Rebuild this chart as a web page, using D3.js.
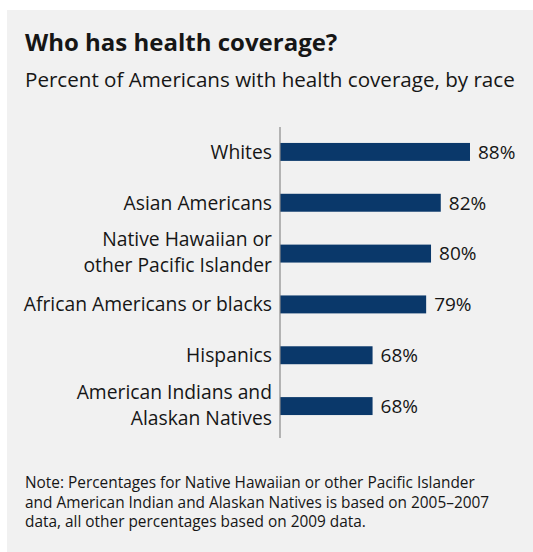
<!DOCTYPE html>
<html>
<head>
<meta charset="utf-8">
<script src="https://cdn.jsdelivr.net/npm/d3@7"></script>
<style>
  body { margin: 0; background: #fff; }
  text { font-family: "Open Sans", "Noto Sans", sans-serif; fill: #161616; }
</style>
</head>
<body>
<div id="chart"></div>
<script>
// chart data
const categories = [
	["Whites"],
	["Asian Americans"],
	["Native Hawaiian or", "other Pacific Islander"],
	["African Americans or blacks"],
	["Hispanics"],
	["American Indians and", "Alaskan Natives"]
];
const values = [88, 82, 80, 79, 68, 68];
const noteLines = [
	"Note: Percentages for Native Hawaiian or other Pacific Islander",
	"and American Indian and Alaskan Natives is based on 2005\u20132007",
	"data, all other percentages based on 2009 data."
];

const W = 533, H = 552;
const axisX = 280;

const svg = d3.select("#chart")
	.append("svg")
	.attr("width", W)
	.attr("height", H);

// grey panel behind everything
svg.append("rect")
	.attr("x", 7)
	.attr("y", 10)
	.attr("width", W - 7)
	.attr("height", H - 10)
	.attr("fill", "#f1f1f1");

// titles
svg.append("text")
	.attr("x", 25)
	.attr("y", 51)
	.style("font-size", "24px")
	.style("font-weight", "bold")
	.text("Who has health coverage?");

svg.append("text")
	.attr("x", 25)
	.attr("y", 87)
	.style("font-size", "20.6px")
	.text("Percent of Americans with health coverage, by race");

// scales
const ids = categories.map(function(d, i) { return i; });

const y = d3.scaleBand()
	.domain(ids)
	.range([127.7, 430.3])
	.paddingInner(0.647)
	.paddingOuter(0.3);

const x = d3.scaleLinear()
	.domain([49, 88])
	.range([axisX, 470]);

// bars
svg.selectAll(".bar")
	.data(values)
	.enter()
	.append("rect")
	.attr("class", "bar")
	.attr("x", axisX)
	.attr("y", function(d, i) { return y(i); })
	.attr("width", function(d) { return x(d) - axisX; })
	.attr("height", y.bandwidth())
	.attr("fill", "#0a386a");

// vertical axis line
svg.append("line")
	.attr("x1", axisX)
	.attr("x2", axisX)
	.attr("y1", 127)
	.attr("y2", 438)
	.attr("stroke", "#8a8a8a")
	.attr("stroke-width", 1.2);

// value labels
svg.selectAll(".val")
	.data(values)
	.enter()
	.append("text")
	.attr("class", "val")
	.attr("x", function(d) { return x(d) + 8; })
	.attr("y", function(d, i) { return y(i) + y.bandwidth() / 2; })
	.attr("dy", "0.36em")
	.style("font-size", "19px")
	.text(function(d) { return d + "%"; });

// category labels (one or two lines)
const lineH = 26;
categories.forEach(function(lines, i) {
	const cy = y(i) + y.bandwidth() / 2 - (lines.length - 1) * 1.5;
	const t = svg.append("text")
		.attr("text-anchor", "end")
		.style("font-size", "19.3px");
	lines.forEach(function(l, j) {
		t.append("tspan")
			.attr("x", 272)
			.attr("y", cy + (j - (lines.length - 1) / 2) * lineH)
			.attr("dy", "0.36em")
			.text(l);
	});
});

// footnote
svg.selectAll(".note")
	.data(noteLines)
	.enter()
	.append("text")
	.attr("class", "note")
	.attr("x", 25)
	.attr("y", function(d, i) { return 488 + i * 19.5; })
	.style("font-size", "15.4px")
	.text(function(d) { return d; });
</script>
</body>
</html>
